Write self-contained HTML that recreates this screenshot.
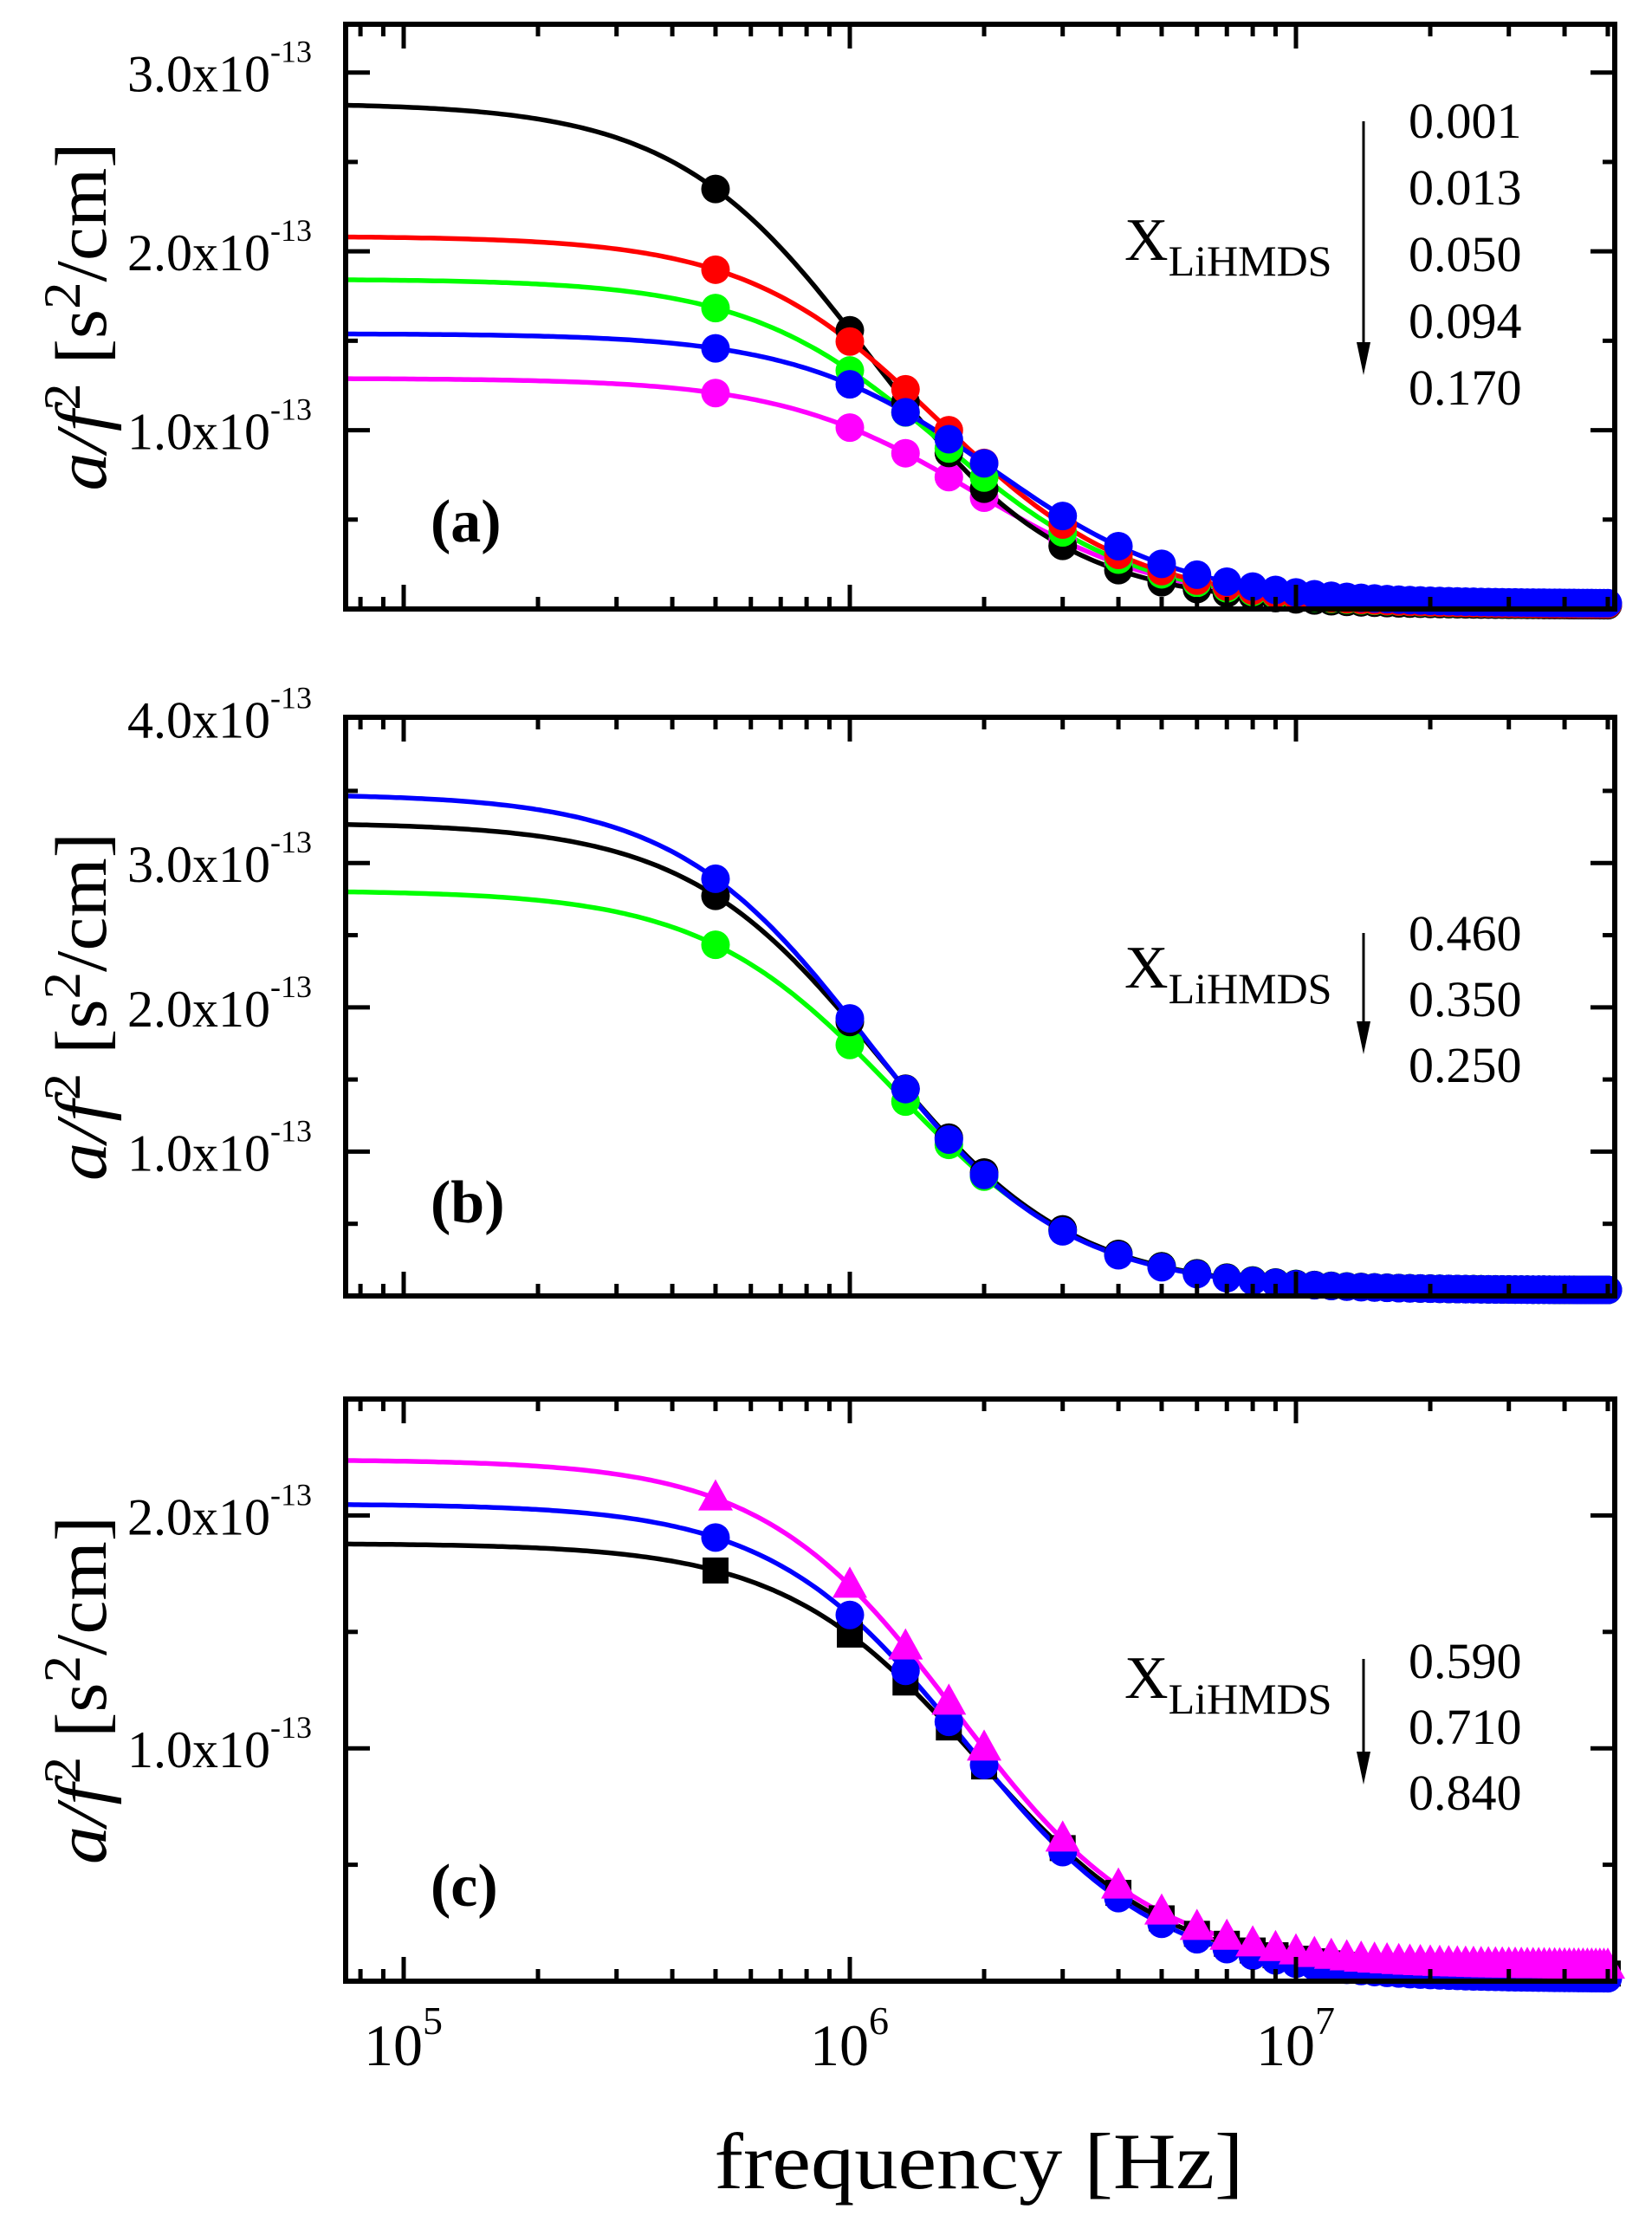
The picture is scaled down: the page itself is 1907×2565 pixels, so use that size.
<!DOCTYPE html>
<html><head><meta charset="utf-8">
<style>
html,body{margin:0;padding:0;background:#fff;}
svg{display:block;}
text{font-family:"Liberation Serif","Times New Roman",serif;fill:#000;}
</style></head>
<body>
<svg id="s" width="1907" height="2565" viewBox="0 0 1907 2565" xmlns="http://www.w3.org/2000/svg">
<rect width="1907" height="2565" fill="#fff"/>
<text x="1130" y="2526" font-size="92" text-anchor="middle" textLength="611" lengthAdjust="spacingAndGlyphs">frequency [Hz]</text>
</svg>
<script>
var NS="http://www.w3.org/2000/svg";
var S=document.getElementById('s');
function el(t,a,p,txt){var e=document.createElementNS(NS,t);for(var k in a)e.setAttribute(k,a[k]);if(txt!==undefined)e.textContent=txt;(p||S).appendChild(e);return e;}
var L=399,R=1864,x5=466,dec=515;
function X(f){return x5+(Math.log10(f)-5)*dec;}
var freqs=[5e5,1e6,1.333e6,1.667e6,2e6];for(var f=3e6;f<=5.01e7;f+=1e6)freqs.push(f);
var panels=[
 {top:28,bot:703,ymax:3.27,labels:[1,2,3],name:'(a)',nameY:625,
  leg:{xy:300,arrow:[140,433],nums:['0.001','0.013','0.050','0.094','0.170'],y0:159,dy:77},
  series:[
   {c:'#ff00ff',A:1.27,fc:1.9e6,B:0.02,m:'o'},
   {c:'#000',A:2.81,fc:1.1e6,B:0.02,m:'o'},
   {c:'#00ff00',A:1.82,fc:1.6e6,B:0.025,m:'o'},
   {c:'#ff0000',A:2.06,fc:1.58e6,B:0.025,m:'o'},
   {c:'#0000ff',A:1.51,fc:2.08e6,B:0.03,m:'o'}]},
 {top:828,bot:1496,ymax:4.01,labels:[1,2,3,4],name:'(b)',nameY:1411,
  leg:{xy:1140,arrow:[1077,1217],nums:['0.460','0.350','0.250'],y0:1097,dy:76},
  series:[
   {c:'#00ff00',A:2.77,fc:1.26e6,B:0.04,m:'o'},
   {c:'#000',A:3.24,fc:1.16e6,B:0.04,m:'o'},
   {c:'#0000ff',A:3.44,fc:1.1e6,B:0.04,m:'o'}]},
 {top:1615,bot:2287,ymax:2.5,labels:[1,2],name:'(c)',nameY:2200,
  leg:{xy:1960,arrow:[1915,2060],nums:['0.590','0.710','0.840'],y0:1937,dy:76},
  series:[
   {c:'#000',A:1.85,fc:1.93e6,B:0.03,m:'s'},
   {c:'#0000ff',A:2.04,fc:1.81e6,B:0.01,m:'o'},
   {c:'#ff00ff',A:2.18,fc:1.74e6,B:0.06,m:'t'}]}
];
panels.forEach(function(P,pi){
  var H=P.bot-P.top;
  function Y(v){return P.bot-v/P.ymax*H;}
  var g=el('g',{});
  P.series.forEach(function(s){
    var d='';
    for(var i=0;i<=300;i++){var lf=4.87+i*(7.714-4.87)/300;var f=Math.pow(10,lf);
      var v=s.A/(1+Math.pow(f/s.fc,2))+s.B;d+=(i?'L':'M')+X(f).toFixed(1)+','+Y(v).toFixed(1);}
    el('path',{d:d,fill:'none',stroke:s.c,'stroke-width':5.5},g);
  });
  P.series.forEach(function(s){
    freqs.forEach(function(f){
      var v=s.A/(1+Math.pow(f/s.fc,2))+s.B;var x=X(f),y=Y(v);
      if(s.m=='o')el('circle',{cx:x,cy:y,r:16.5,fill:s.c},g);
      else if(s.m=='s')el('rect',{x:x-15,y:y-15,width:30,height:30,fill:s.c},g);
      else el('polygon',{points:(x)+','+(y-22)+' '+(x-20)+','+(y+14)+' '+(x+20)+','+(y+14),fill:s.c},g);
    });
  });
  el('rect',{x:L,y:P.top,width:R-L,height:H,fill:'none',stroke:'#000','stroke-width':6});
  for(var e=4;e<=7;e++)for(var k=1;k<=9;k++){var f=k*Math.pow(10,e);var x=X(f);if(x<L+2||x>R-2)continue;
    var len=k==1?28:14;
    el('line',{x1:x,x2:x,y1:P.bot,y2:P.bot-len,stroke:'#000','stroke-width':5});
    el('line',{x1:x,x2:x,y1:P.top,y2:P.top+len,stroke:'#000','stroke-width':5});}
  for(var v=0.5;v<P.ymax-0.01;v+=0.5){var y=Y(v);var maj=Math.abs(v-Math.round(v))<0.01;var len=maj?28:14;
    el('line',{x1:L,x2:L+len,y1:y,y2:y,stroke:'#000','stroke-width':5});
    el('line',{x1:R,x2:R-len,y1:y,y2:y,stroke:'#000','stroke-width':5});}
  P.labels.forEach(function(v){var y=Y(v);
    var t=el('text',{x:147,y:y+22,'font-size':60});
    t.textContent=v.toFixed(1)+'x10';
    el('tspan',{'font-size':36,dy:-34},t,'-13');
  });
  var cy=(P.top+P.bot)/2;
  var t=el('text',{x:0,y:0,'font-size':84,'text-anchor':'middle',transform:'translate(122,'+cy+') rotate(-90)',textLength:402,lengthAdjust:'spacingAndGlyphs'});
  el('tspan',{'font-style':'italic'},t,'a/f');
  el('tspan',{dy:-30,'font-size':60},t,'2');
  el('tspan',{dy:30},t,' [s');
  el('tspan',{dy:-30,'font-size':60},t,'2');
  el('tspan',{dy:30},t,'/cm]');
  el('text',{x:497,y:P.nameY,'font-size':70,'font-weight':'bold'},null,P.name);
  var lg=P.leg;
  var tx=el('text',{x:1298,y:lg.xy,'font-size':70});
  tx.textContent='X';
  el('tspan',{'font-size':50,dy:18},tx,'LiHMDS');
  el('line',{x1:1574,x2:1574,y1:lg.arrow[0],y2:lg.arrow[1]-36,stroke:'#000','stroke-width':3});
  el('polygon',{points:'1566,'+(lg.arrow[1]-38)+' 1582,'+(lg.arrow[1]-38)+' 1574,'+lg.arrow[1],fill:'#000'});
  lg.nums.forEach(function(n,i){el('text',{x:1626,y:lg.y0+i*lg.dy,'font-size':58},null,n);});
});
[5,6,7].forEach(function(e){var x=X(Math.pow(10,e));
  var t=el('text',{x:x-46,y:2384,'font-size':68});t.textContent='10';
  el('tspan',{'font-size':46,dy:-36},t,String(e));});
</script>
</body></html>
